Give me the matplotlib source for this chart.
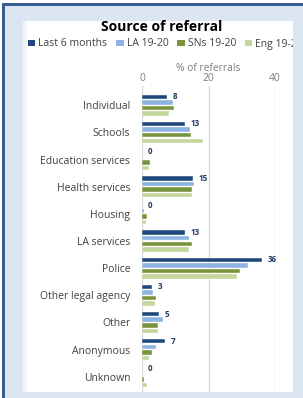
import matplotlib
matplotlib.use("Agg")
from matplotlib import pyplot as plt
from matplotlib.patches import Rectangle, Patch
import numpy as np

categories = ["Individual", "Schools", "Education services", "Health services",
              "Housing", "LA services", "Police", "Other legal agency", "Other",
              "Anonymous", "Unknown"]
last6 = [7.6, 12.8, 0.0, 15.3, 0.0, 13.0, 36.0, 3.1, 5.1, 6.9, 0.0]
la = [9.3, 14.4, 0.0, 15.5, 0.5, 14.2, 31.9, 3.3, 6.3, 4.3, 0.0]
sns_ = [9.5, 14.7, 2.3, 15.0, 1.4, 14.9, 29.6, 4.2, 4.7, 3.1, 0.5]
eng = [8.1, 18.2, 2.1, 15.0, 1.2, 14.0, 28.7, 3.9, 4.9, 2.1, 1.4]
series_names = ["Last 6 months", "LA 19-20", "SNs 19-20", "Eng 19-20"]
colors = ["#1f497d", "#8db3e2", "#77933c", "#c3d69b"]

plt.rcParams['font.family'] = ['Open Sans', 'DejaVu Sans']

W, H = 303, 398
fig = plt.figure(figsize=(W / 100, H / 100), dpi=100, facecolor="white")


def box(x0, y0, x1, y1, color, z):
    # pixel box, top-left origin
    r = Rectangle((x0 / W, 1 - y1 / H), (x1 - x0) / W, (y1 - y0) / H,
                  transform=fig.transFigure, facecolor=color, edgecolor="none", zorder=z)
    fig.add_artist(r)


# frame
box(2, 3, W, H, "#dce6f2", -10)
box(2, 3, W, 5.5, "#365f91", -9)
box(2, 3, 5, H, "#365f91", -9)
box(23, 21, 293, 392, "white", -8)
box(23, 21, 27, 392, "#f2f2f2", -7)
box(293, 6, W, H, "#dce6f2", 20)

ax = fig.add_axes([142 / W, 1 - 392 / H, 133 / W, 306 / H])
ax.patch.set_alpha(0)

y = np.arange(len(categories))
pitch = 0.206
h = 0.165
data = [last6, la, sns_, eng]
for i, vals in enumerate(data):
    ax.barh(y + (i - 1.5) * pitch, vals, height=h, color=colors[i],
            edgecolor="white", linewidth=0.3, zorder=3)

for yi, v in zip(y, last6):
    ax.annotate(f"{v:.0f}", (v, yi - 1.5 * pitch), xytext=(4, 0), textcoords="offset points",
                ha="left", va="center", fontsize=5.8, fontweight="bold", color="#1f3864",
                annotation_clip=False)

ax.set_xlim(0, 40)
ax.set_ylim(10.56, -0.707)
ax.set_xticks([0, 20, 40])
ax.set_yticks(y)
ax.set_yticklabels(categories, fontsize=7.5, color="#404040")
ax.xaxis.tick_top()
ax.xaxis.set_label_position("top")
ax.set_xlabel("% of referrals", fontsize=7.4, color="#7f7f7f", labelpad=1.5)
ax.tick_params(axis="x", length=0, pad=1.5, labelsize=7.4, labelcolor="#7f7f7f")
ax.tick_params(axis="y", length=0, pad=8.5)
ax.grid(axis="x", color="#d9d9d9", linewidth=1, zorder=0)
ax.set_axisbelow(True)
for s in ax.spines.values():
    s.set_visible(False)

fig.text(162 / W, 1 - 27 / H, "Source of referral", ha="center", va="center",
         fontsize=10, fontweight="bold", color="black")

handles = [Patch(facecolor=c, edgecolor="none") for c in colors]
fig.legend(handles, series_names, loc="center left", bbox_to_anchor=(28 / W, 1 - 44 / H),
           ncol=4, frameon=False, fontsize=7.5, handlelength=0.7, handleheight=0.55,
           handletextpad=0.3, columnspacing=0.85, borderpad=0, borderaxespad=0,
           labelcolor="#404040")

fig.savefig("out.png", dpi=100, facecolor="white")
